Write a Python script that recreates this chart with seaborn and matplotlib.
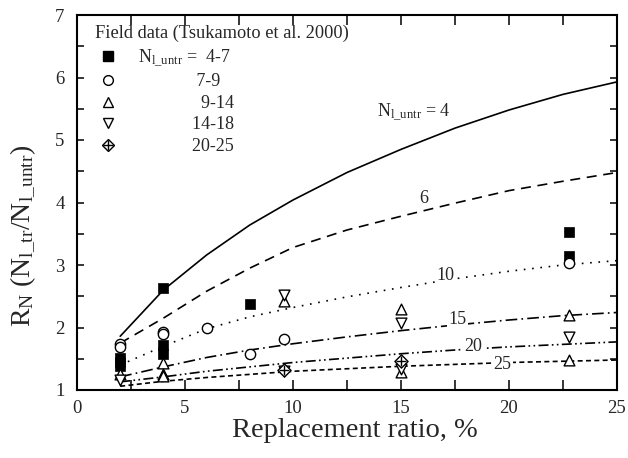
import numpy as np
import pandas as pd
import matplotlib
matplotlib.use("Agg")
import matplotlib.pyplot as plt
import seaborn as sns
from matplotlib.lines import Line2D
from matplotlib.legend_handler import HandlerTuple

# ---------------- data ----------------
ratio_curve = [2, 4, 6, 8, 10, 12.5, 15, 17.5, 20, 22.5, 25]
rn_n4 = [1.86, 2.60, 3.16, 3.64, 4.04, 4.48, 4.85, 5.19, 5.48, 5.73, 5.93]
rn_n6 = [1.75, 2.15, 2.58, 2.95, 3.28, 3.56, 3.78, 3.99, 4.19, 4.34, 4.48]
rn_n10 = [1.40, 1.70, 1.98, 2.17, 2.32, 2.49, 2.64, 2.78, 2.90, 3.00, 3.07]
rn_n15 = [1.21, 1.37, 1.52, 1.64, 1.74, 1.85, 1.95, 2.04, 2.12, 2.19, 2.24]
rn_n20 = [1.13, 1.21, 1.30, 1.37, 1.44, 1.51, 1.58, 1.64, 1.69, 1.73, 1.77]
rn_n25 = [1.06, 1.14, 1.20, 1.25, 1.30, 1.34, 1.38, 1.41, 1.44, 1.46, 1.48]
curve_labels = ["6", "10", "15", "20", "25"]

# field data (Tsukamoto et al. 2000)
sq_x = [2, 2, 2, 4, 4, 4, 8, 22.8, 22.8]
sq_y = [1.52, 1.45, 1.38, 2.63, 1.72, 1.58, 2.38, 3.53, 3.14]
ci_x = [2, 2, 4, 4, 6, 8, 9.6, 22.8]
ci_y = [1.74, 1.69, 1.93, 1.89, 1.99, 1.58, 1.82, 3.04]
tu_x = [2, 4, 4, 4, 9.6, 15, 15, 22.8, 22.8]
tu_y = [1.25, 1.43, 1.25, 1.22, 2.42, 2.29, 1.29, 2.20, 1.48]
td_x = [2, 9.6, 9.6, 15, 15, 22.8]
td_y = [1.16, 2.52, 1.30, 2.08, 1.34, 1.85]
cd_x = [9.6, 15]
cd_y = [1.32, 1.46]
legend_labels = ["4-7", "7-9", "9-14", "14-18", "20-25"]

# ---------------- style ----------------
sns.set_style("ticks")
plt.rcParams["font.family"] = ["Liberation Serif", "DejaVu Serif"]
plt.rcParams["mathtext.fontset"] = "custom"
plt.rcParams["mathtext.rm"] = "Liberation Serif"
plt.rcParams["mathtext.it"] = "Liberation Serif:italic"

fig = plt.figure(figsize=(6.28, 4.58), dpi=100)
ax = fig.add_axes([77 / 628, 1 - 390 / 458, 540 / 628, 375 / 458])

lw = 1.2
styles = [
    ("-", rn_n4),
    ((0, (6, 4)), rn_n6),
    ((0, (1, 4)), rn_n10),
    ((0, (7, 2.5, 1, 2.5)), rn_n15),
    ((0, (6, 2, 1, 2, 1, 2)), rn_n20),
    ((0, (3, 2)), rn_n25),
]
for ls, vals in styles:
    sns.lineplot(x=ratio_curve, y=vals, ax=ax, color="black", lw=lw,
                 linestyle=ls, legend=False)

# curve labels (with white box to cut the line)
lab_pos = [(16.05, 4.07), (17.05, 2.84), (17.6, 2.13), (18.36, 1.69), (19.68, 1.41)]
for t, (lx, ly) in zip(curve_labels, lab_pos):
    ax.text(lx, ly, t, fontsize=13, ha="center", va="center",
            bbox=dict(facecolor="white", edgecolor="none", pad=1.0), zorder=3)
ax.text(13.9, 5.45, r"$\mathregular{N_{l\_untr}}$ = 4", fontsize=13,
        ha="left", va="center", zorder=3)

mk = dict(color="white", edgecolor="black", linewidth=1.0, legend=False, zorder=4)
sns.scatterplot(x=sq_x, y=sq_y, ax=ax, marker="s", s=45, color="black",
                edgecolor="black", linewidth=0.5, legend=False, zorder=4)
sns.scatterplot(x=ci_x, y=ci_y, ax=ax, marker="o", s=55, **mk)
sns.scatterplot(x=tu_x, y=tu_y, ax=ax, marker="^", s=60, **mk)
sns.scatterplot(x=td_x, y=td_y, ax=ax, marker="v", s=60, **mk)
sns.scatterplot(x=cd_x, y=cd_y, ax=ax, marker="D", s=45, **mk)
sns.scatterplot(x=cd_x, y=cd_y, ax=ax, marker="+", s=60, color="black",
                linewidth=1.0, legend=False, zorder=5)

# legend
h_sq = Line2D([], [], ls="none", marker="s", ms=6.5, mfc="black", mec="black")
h_ci = Line2D([], [], ls="none", marker="o", ms=7, mfc="white", mec="black", mew=1)
h_tu = Line2D([], [], ls="none", marker="^", ms=7.5, mfc="white", mec="black", mew=1)
h_td = Line2D([], [], ls="none", marker="v", ms=7.5, mfc="white", mec="black", mew=1)
h_cd1 = Line2D([], [], ls="none", marker="D", ms=6.5, mfc="white", mec="black", mew=1)
h_cd2 = Line2D([], [], ls="none", marker="+", ms=7.5, mec="black", mew=1)
labels = [r"$\mathregular{N_{l\_untr}}$ =  " + legend_labels[0],
          "             " + legend_labels[1],
          "              " + legend_labels[2],
          "            " + legend_labels[3],
          "            " + legend_labels[4]]
leg = ax.legend([h_sq, h_ci, h_tu, h_td, (h_cd1, h_cd2)], labels,
                handler_map={tuple: HandlerTuple(ndivide=1, pad=0)},
                loc="upper left", bbox_to_anchor=(0.04, 0.915), frameon=False,
                fontsize=13, handlelength=1.0, handletextpad=1.2,
                labelspacing=0.25, borderpad=0, borderaxespad=0)
ax.text(0.034, 0.95, "Field data (Tsukamoto et al. 2000)", transform=ax.transAxes,
        fontsize=13.2, ha="left", va="center")

# axes
ax.set_xlim(0, 25)
ax.set_ylim(1, 7)
ax.set_xticks([0, 5, 10, 15, 20, 25])
ax.set_xticks(np.arange(0, 25.1, 2.5), minor=True)
ax.set_yticks([1, 2, 3, 4, 5, 6, 7])
ax.set_yticks(np.arange(1, 7.01, 0.5), minor=True)
ax.tick_params(axis="both", which="both", direction="in", top=True, right=True,
               width=1.1, labelsize=13.5, color="black")
ax.tick_params(axis="x", which="both", length=7, pad=7)
ax.tick_params(axis="y", which="both", length=5, pad=9)
for sp in ax.spines.values():
    sp.set_linewidth(1.5)
    sp.set_color("black")

ax.set_xlabel("Replacement ratio, %", fontsize=20.5)
ax.set_ylabel(r"$\mathregular{R_N\ (N_{l\_tr}/N_{l\_untr})}$", fontsize=20)
ax.xaxis.set_label_coords(0.515, -0.075)
ax.yaxis.set_label_coords(-0.072, 0.41)

fig.savefig("out.png", dpi=100)
